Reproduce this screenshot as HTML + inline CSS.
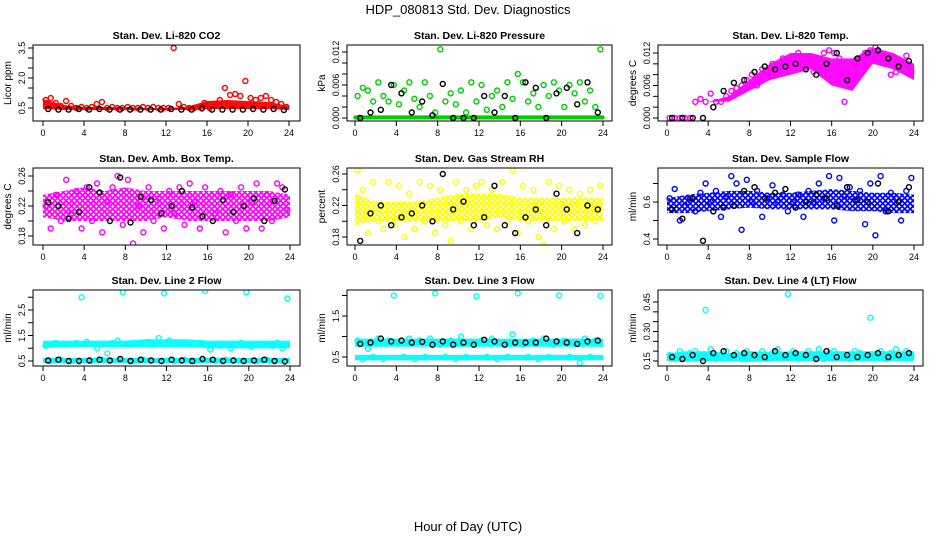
<!DOCTYPE html>
<html><head><meta charset="utf-8"><style>
body{margin:0;background:#fff}
svg{display:block;font-family:"Liberation Sans",sans-serif}
</style></head><body>
<svg id="chart" width="936" height="540" viewBox="0 0 936 540">
<defs id="defs"></defs>
<text x="468" y="14" text-anchor="middle" font-size="13">HDP_080813  Std. Dev. Diagnostics</text>
<text x="468" y="531" text-anchor="middle" font-size="13">Hour of Day (UTC)</text>
</svg>
<script>
// ---- data ----
const pointHours = [];for(let i=0;i<48;i++)pointHours.push(0.25+i*0.5);
const blackHours = [];for(let i=0;i<24;i++)blackHours.push(0.5+i);
const bandHours = [0,2,4,6,8,10,12,14,16,18,20,22,24];
const xTicks = [0,4,8,12,16,20,24];

const co2BandLo = [0.45,0.4,0.4,0.4,0.4,0.4,0.4,0.4,0.45,0.45,0.45,0.45,0.4];
const co2BandHi = [0.95,0.65,0.55,0.55,0.55,0.5,0.5,0.55,0.85,0.9,0.85,0.8,0.6];
const co2Points = [0.9,1.0,0.75,0.6,0.85,0.6,0.5,0.55,0.5,0.55,0.7,0.8,0.5,0.55,0.5,0.5,0.55,0.5,0.5,0.55,0.5,0.55,0.5,0.5,0.5,3.5,0.7,0.55,0.5,0.5,0.55,0.75,0.5,0.7,0.9,1.5,1.15,1.2,1.1,1.85,1.0,0.9,1.0,1.1,0.9,0.8,0.7,0.55];
const co2Black = [0.45,0.42,0.42,0.45,0.42,0.45,0.42,0.42,0.42,0.42,0.42,0.42,0.45,0.42,0.42,0.48,0.42,0.42,0.42,0.42,0.45,0.42,0.45,0.4];

const presBandLo = [0,0,0,0,0,0,0,0,0,0,0,0,0];
const presBandHi = [0.0002,0.0002,0.0002,0.0002,0.0002,0.0002,0.0002,0.0002,0.0002,0.0002,0.0002,0.0002,0.0002];
const presPoints = [0.004,0.0055,0.005,0.003,0.0065,0.004,0.003,0.006,0.0025,0.005,0.0065,0.0035,0.002,0.0065,0.004,0.001,0.0125,0.003,0.0045,0.0025,0.005,0.001,0.0065,0.003,0.006,0.0015,0.004,0.005,0.002,0.0065,0.0035,0.008,0.0065,0.003,0.0045,0.002,0.006,0.004,0.0065,0.005,0.002,0.006,0.0045,0.0065,0.003,0.005,0.002,0.0125];
const presBlack = [0.0,0.001,0.0015,0.006,0.0045,0.001,0.003,0.0005,0.0062,0.0,0.0,0.0,0.004,0.001,0.004,0.0,0.0065,0.0055,0.0,0.0045,0.0055,0.0025,0.0065,0.001];

const tempBandLo = [0,0,0.003,0.003,0.005,0.007,0.008,0.009,0.006,0.005,0.010,0.009,0.007];
const tempBandHi = [0,0,0.003,0.004,0.007,0.010,0.012,0.012,0.011,0.011,0.013,0.012,0.010];
const tempPoints = [0,0,0,0,0,0.003,0.0035,0.003,0.0045,0.003,0.003,0.004,0.005,0.0055,0.006,0.007,0.008,0.006,0.009,0.0085,0.010,0.009,0.011,0.010,0.011,0.012,0.010,0.011,0.0085,0.011,0.012,0.0125,0.012,0.011,0.003,0.007,0.010,0.011,0.012,0.0125,0.013,0.012,0.010,0.008,0.0085,0.010,0.0115,0.0085];
const tempBlack = [0,0,0,0,0.002,0.005,0.0065,0.007,0.0085,0.0095,0.009,0.0095,0.010,0.009,0.008,0.010,0.012,0.007,0.011,0.012,0.0125,0.011,0.0095,0.0105];

const ambBandLo = [0.205,0.2,0.2,0.2,0.2,0.2,0.205,0.2,0.2,0.2,0.2,0.2,0.205];
const ambBandHi = [0.235,0.24,0.245,0.24,0.245,0.24,0.24,0.24,0.24,0.24,0.24,0.24,0.235];
const ambPoints = [0.22,0.19,0.235,0.2,0.255,0.21,0.24,0.19,0.245,0.2,0.25,0.185,0.225,0.245,0.26,0.195,0.255,0.17,0.22,0.185,0.245,0.2,0.23,0.19,0.24,0.21,0.245,0.195,0.25,0.225,0.19,0.245,0.275,0.21,0.24,0.185,0.235,0.2,0.245,0.19,0.225,0.25,0.19,0.235,0.2,0.25,0.245,0.215];
const ambBlack = [0.225,0.22,0.203,0.212,0.245,0.238,0.2,0.258,0.198,0.232,0.228,0.21,0.22,0.24,0.218,0.206,0.2,0.228,0.212,0.22,0.23,0.2,0.227,0.242];

const rhBandLo = [0.195,0.2,0.2,0.2,0.2,0.2,0.2,0.205,0.2,0.2,0.2,0.2,0.2];
const rhBandHi = [0.235,0.225,0.225,0.225,0.23,0.235,0.235,0.235,0.23,0.23,0.23,0.23,0.23];
const rhPoints = [0.265,0.24,0.185,0.25,0.2,0.19,0.25,0.195,0.245,0.18,0.235,0.19,0.25,0.2,0.245,0.185,0.24,0.195,0.175,0.25,0.2,0.24,0.19,0.245,0.25,0.195,0.24,0.19,0.25,0.2,0.265,0.185,0.245,0.2,0.24,0.18,0.17,0.25,0.19,0.245,0.2,0.24,0.19,0.235,0.195,0.24,0.2,0.245];
const rhBlack = [0.175,0.21,0.22,0.195,0.205,0.21,0.22,0.2,0.26,0.215,0.225,0.195,0.205,0.245,0.195,0.185,0.205,0.215,0.195,0.235,0.215,0.185,0.22,0.215];

const flowBandLo = [0.54,0.54,0.55,0.56,0.57,0.56,0.56,0.56,0.56,0.55,0.55,0.54,0.54];
const flowBandHi = [0.62,0.64,0.65,0.66,0.66,0.65,0.65,0.66,0.67,0.66,0.65,0.65,0.64];
const flowPoints = [0.62,0.67,0.5,0.58,0.62,0.55,0.65,0.7,0.6,0.66,0.52,0.63,0.74,0.7,0.45,0.72,0.6,0.66,0.52,0.62,0.69,0.6,0.64,0.55,0.6,0.64,0.52,0.66,0.6,0.7,0.62,0.74,0.5,0.73,0.63,0.68,0.61,0.66,0.48,0.7,0.42,0.74,0.55,0.65,0.62,0.5,0.66,0.73];
const flowBlack = [0.56,0.51,0.62,0.39,0.55,0.57,0.58,0.66,0.68,0.62,0.65,0.67,0.57,0.6,0.64,0.62,0.58,0.68,0.61,0.6,0.7,0.55,0.6,0.68];

const l2BandLo = [1.0,1.05,1.05,1.05,1.05,1.05,1.05,1.05,1.0,1.0,1.0,1.0,1.0];
const l2BandHi = [1.3,1.3,1.3,1.3,1.3,1.35,1.35,1.35,1.3,1.3,1.3,1.3,1.3];
const l2Band2Lo = [0.42,0.42,0.42,0.42,0.42,0.42,0.42,0.42,0.42,0.42,0.42,0.42,0.42];
const l2Band2Hi = [0.62,0.62,0.62,0.62,0.62,0.62,0.62,0.62,0.62,0.62,0.62,0.62,0.62];
const l2Points = [1.1,0.5,1.2,0.55,1.15,0.5,1.2,3.0,1.25,0.5,1.0,0.55,0.8,1.2,1.3,3.2,1.15,0.5,1.2,0.55,1.25,1.15,1.4,3.15,1.3,0.5,1.2,0.55,1.15,0.5,1.2,3.25,0.95,0.5,1.1,0.55,1.0,1.15,1.2,3.2,1.05,0.5,1.15,0.55,1.1,1.2,1.0,2.95];
const l2Black = [0.52,0.55,0.5,0.5,0.52,0.55,0.52,0.58,0.5,0.55,0.52,0.5,0.55,0.52,0.5,0.58,0.55,0.5,0.52,0.5,0.52,0.55,0.5,0.48];

const l3BandLo = [0.75,0.75,0.75,0.75,0.75,0.75,0.75,0.75,0.75,0.75,0.75,0.75,0.75];
const l3BandHi = [0.95,0.95,0.95,0.95,0.95,0.95,0.95,0.95,0.95,0.95,0.95,0.95,0.95];
const l3Band2Lo = [0.42,0.42,0.42,0.42,0.42,0.42,0.42,0.42,0.42,0.42,0.42,0.42,0.42];
const l3Band2Hi = [0.55,0.55,0.55,0.55,0.55,0.55,0.55,0.55,0.55,0.55,0.55,0.55,0.55];
const l3Points = [0.9,0.45,0.7,0.5,0.95,0.45,0.9,2.0,0.85,0.5,0.95,0.45,0.9,0.5,0.95,2.05,0.8,0.5,0.9,0.45,1.0,0.5,0.85,1.98,0.9,0.5,0.95,0.45,0.85,0.5,1.05,2.05,0.8,0.5,0.9,0.45,0.95,0.5,0.8,2.0,0.9,0.5,0.85,0.35,0.95,0.5,0.9,1.99];
const l3Black = [0.82,0.85,0.95,0.88,0.9,0.85,0.87,0.8,0.88,0.8,0.85,0.8,0.92,0.88,0.8,0.85,0.85,0.85,0.95,0.88,0.85,0.82,0.88,0.9];

const l4BandLo = [0.15,0.145,0.15,0.15,0.145,0.15,0.15,0.15,0.15,0.15,0.15,0.15,0.15];
const l4BandHi = [0.19,0.2,0.2,0.19,0.2,0.195,0.2,0.2,0.2,0.2,0.2,0.2,0.2];
const l4Points = [0.18,0.16,0.2,0.17,0.19,0.2,0.17,0.41,0.21,0.16,0.18,0.2,0.17,0.19,0.16,0.2,0.18,0.17,0.2,0.16,0.19,0.21,0.17,0.49,0.2,0.16,0.18,0.2,0.17,0.21,0.16,0.19,0.2,0.17,0.18,0.16,0.2,0.19,0.17,0.37,0.18,0.2,0.16,0.19,0.21,0.17,0.2,0.18];
const l4Black = [0.17,0.16,0.18,0.15,0.19,0.2,0.18,0.19,0.18,0.17,0.2,0.18,0.19,0.18,0.16,0.2,0.17,0.18,0.17,0.18,0.19,0.17,0.18,0.19];

const co2Ticks=[0.5,1.0,1.5,2.0,2.5,3.0,3.5], co2Labels=["0.5","","","2.0","","","3.5"];
const presTicks=[0,0.002,0.004,0.006,0.008,0.010,0.012], presLabels=["0.000","","","0.006","","","0.012"];
const ambTicks=[0.18,0.20,0.22,0.24,0.26], ambLabels=["0.18","","0.22","","0.26"];
const flowTicks=[0.4,0.5,0.6,0.7], flowLabels=["0.4","","0.6",""];
const l2Ticks=[0.5,1.0,1.5,2.0,2.5,3.0], l2Labels=["0.5","","1.5","","2.5",""];
const l3Ticks=[0.5,1.0,1.5,2.0], l3Labels=["0.5","","1.5",""];
const l4Ticks=[0.15,0.20,0.25,0.30,0.35,0.40,0.45], l4Labels=["0.15","","","0.30","","","0.45"];

// ---- layout ----
const NS="http://www.w3.org/2000/svg";
const svg=document.getElementById('chart');
const defs=document.getElementById('defs');
function mk(tag,attrs,parent){const e=document.createElementNS(NS,tag);for(const k in attrs)e.setAttribute(k,attrs[k]);(parent||svg).appendChild(e);return e;}
const panels=[
 {key:'co2',title:'Stan. Dev. Li-820 CO2',ylab:'Licor ppm',col:'#ff0000',box:[33,45,300,121],x0:43,x24:289,v:[0.5,3.5],py:[108,48],ticks:co2Ticks,labels:co2Labels,bands:[[co2BandLo,co2BandHi]],pts:co2Points,blk:co2Black},
 {key:'pres',title:'Stan. Dev. Li-820 Pressure',ylab:'kPa',col:'#00cd00',box:[347,45,612,121],x0:355,x24:603,v:[0,0.012],py:[118,52],ticks:presTicks,labels:presLabels,bands:[[presBandLo,presBandHi]],pts:presPoints,blk:presBlack},
 {key:'temp',title:'Stan. Dev. Li-820 Temp.',ylab:'degrees C',col:'#ff00ff',box:[658,45,923,121],x0:667,x24:914,v:[0,0.012],py:[118,53],ticks:presTicks,labels:presLabels,bands:[[tempBandLo,tempBandHi]],pts:tempPoints,blk:tempBlack},
 {key:'amb',title:'Stan. Dev. Amb. Box Temp.',ylab:'degrees C',col:'#ff00ff',box:[33,168,300,245],x0:43,x24:290,v:[0.18,0.26],py:[236,176],ticks:ambTicks,labels:ambLabels,bands:[[ambBandLo,ambBandHi]],pts:ambPoints,blk:ambBlack,sparse:true},
 {key:'rh',title:'Stan. Dev. Gas Stream RH',ylab:'percent',col:'#ffff00',box:[347,168,612,245],x0:355,x24:603,v:[0.18,0.26],py:[237,174],ticks:ambTicks,labels:ambLabels,bands:[[rhBandLo,rhBandHi]],pts:rhPoints,blk:rhBlack,sparse:true},
 {key:'flow',title:'Stan. Dev. Sample Flow',ylab:'ml/min',col:'#0000ff',box:[658,168,923,245],x0:667,x24:914,v:[0.4,0.6],py:[239,202],ticks:flowTicks,labels:flowLabels,bands:[[flowBandLo,flowBandHi]],pts:flowPoints,blk:flowBlack,sparse:true},
 {key:'l2',title:'Stan. Dev. Line 2 Flow',ylab:'ml/min',col:'#00ffff',box:[33,290,300,366],x0:43,x24:290,v:[0.5,2.5],py:[361,310],ticks:l2Ticks,labels:l2Labels,bands:[[l2BandLo,l2BandHi],[l2Band2Lo,l2Band2Hi]],pts:l2Points,blk:l2Black},
 {key:'l3',title:'Stan. Dev. Line 3 Flow',ylab:'ml/min',col:'#00ffff',box:[347,290,612,366],x0:355,x24:603,v:[0.5,1.5],py:[357,316],ticks:l3Ticks,labels:l3Labels,bands:[[l3BandLo,l3BandHi],[l3Band2Lo,l3Band2Hi]],pts:l3Points,blk:l3Black},
 {key:'l4',title:'Stan. Dev. Line 4 (LT) Flow',ylab:'ml/min',col:'#00ffff',box:[658,290,923,366],x0:667,x24:914,v:[0.15,0.45],py:[361,302],ticks:l4Ticks,labels:l4Labels,bands:[[l4BandLo,l4BandHi]],pts:l4Points,blk:l4Black}
];
panels.forEach(p=>{
 const pid='pat-'+p.key;
 const s=p.sparse?5.5:4;
 const pat=mk('pattern',{id:pid,width:s,height:s,patternUnits:'userSpaceOnUse'},defs);
 mk('circle',{cx:s/2,cy:s/2,r:2.2,fill:'none',stroke:p.col,'stroke-width':1.4},pat);
 [[0,0],[s,0],[0,s],[s,s]].forEach(([cx,cy])=>mk('circle',{cx:cx,cy:cy,r:2.2,fill:'none',stroke:p.col,'stroke-width':1.4},pat));

 const g=mk('g',{});
 
 
 const [bx0,by0,bx1,by1]=p.box;
 const xs=h=>p.x0+(p.x24-p.x0)*h/24;
 const ys=v=>p.py[0]+(p.py[1]-p.py[0])*(v-p.v[0])/(p.v[1]-p.v[0]);
 const cp=mk('clipPath',{id:'clip-'+p.key},g);mk('rect',{x:bx0,y:by0,width:bx1-bx0,height:by1-by0},cp);
 const plot=mk('g',{'clip-path':'url(#clip-'+p.key+')'},g);
 
 
 p.bands.forEach(([lo,hi],bi)=>{
  let d='';
  bandHours.forEach((h,i)=>{d+=(i?'L':'M')+xs(h).toFixed(1)+','+ys(hi[i]).toFixed(1);});
  for(let i=bandHours.length-1;i>=0;i--)d+='L'+xs(bandHours[i]).toFixed(1)+','+ys(lo[i]).toFixed(1);
  const b=mk('path',{d:d+'Z',fill:'url(#'+pid+')',stroke:p.key==='pres'?p.col:'none','stroke-width':3,'stroke-linejoin':'round'},plot);
  
  
 });
 p.pts.forEach((v,i)=>{
  const c=mk('circle',{cx:xs(pointHours[i]).toFixed(1),cy:ys(v).toFixed(1),r:2.5,fill:'none',stroke:p.col,'stroke-width':1.4},plot);
  
  
 });
 p.blk.forEach((v,i)=>{
  const c=mk('circle',{cx:xs(blackHours[i]).toFixed(1),cy:ys(v).toFixed(1),r:2.5,fill:'none',stroke:'#000','stroke-width':1.4},plot);
  
  
 });
 const fr=mk('rect',{x:bx0,y:by0,width:bx1-bx0,height:by1-by0,fill:'none',stroke:'#000','stroke-width':1},g);
 
 
 xTicks.forEach(t=>{
  const x=xs(t);
  mk('line',{x1:x,x2:x,y1:by1,y2:by1+5,stroke:'#000'},g);
  const tl=mk('text',{x:x,y:by1+15,'text-anchor':'middle','font-size':9},g);tl.textContent=t;
  
  
 });
 p.ticks.forEach((t,i)=>{
  const y=ys(t);
  mk('line',{x1:bx0-5,x2:bx0,y1:y,y2:y,stroke:'#000'},g);
  if(p.labels[i]){const tl=mk('text',{x:bx0-8,y:y,'text-anchor':'middle','font-size':9,transform:'rotate(-90 '+(bx0-8)+' '+y+')'},g);tl.textContent=p.labels[i];
   
   }
 });
 const tt=mk('text',{x:(bx0+bx1)/2,y:by0-6,'text-anchor':'middle','font-size':10.5,'font-weight':'bold'},g);tt.textContent=p.title;
 
 
 const yl=bx0-22,ym=(by0+by1)/2;
 const yt=mk('text',{x:yl,y:ym,'text-anchor':'middle','font-size':10,transform:'rotate(-90 '+yl+' '+ym+')'},g);yt.textContent=p.ylab;
 
 
});
</script>
</body></html>
